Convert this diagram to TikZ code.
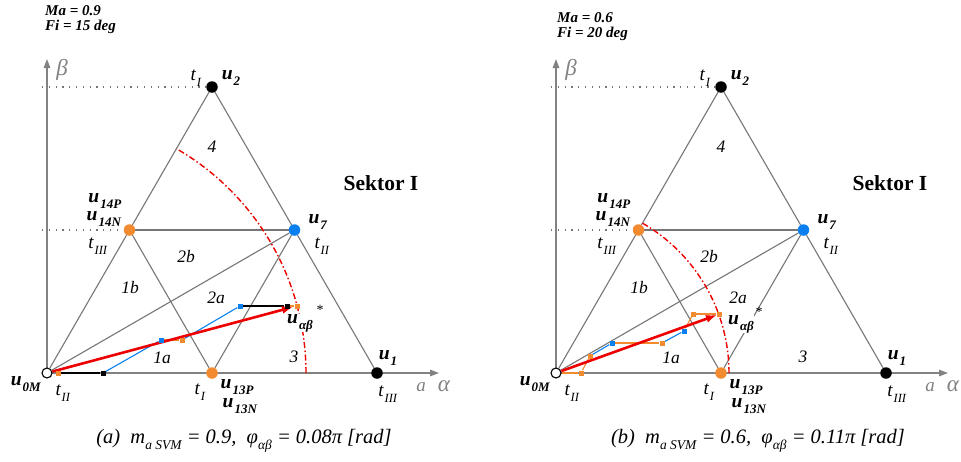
\documentclass[tikz,border=0pt]{standalone}
\usepackage{fontspec}
\setmainfont{Liberation Serif}
\usetikzlibrary{arrows.meta,backgrounds}
\definecolor{myorange}{RGB}{242,138,48}
\definecolor{myblue}{RGB}{10,128,240}
\definecolor{trigray}{RGB}{118,118,118}
\definecolor{axgray}{RGB}{130,130,130}
\definecolor{myred}{RGB}{236,0,0}

\newcommand{\myU}[1]{\textbf{\textit{u}}\kern1pt\raisebox{-0.30em}{\fontsize{13}{13}\selectfont\textbf{\textit{#1}}}}
\newcommand{\myT}[1]{\textit{t}\kern0.5pt\raisebox{-0.32em}{\fontsize{12.5}{12.5}\selectfont\textit{#1}}}
\newcommand{\mySub}[1]{\raisebox{-0.3em}{\fontsize{13.5}{13.5}\selectfont #1}}

\tikzset{
  tri/.style={draw=trigray, line width=1.1pt},
  axline/.style={draw=axgray, line width=1.4pt, -{Triangle[length=9pt,width=6.5pt]}},
  dotline/.style={draw=trigray, line width=1.2pt, dash pattern=on 1.2pt off 5.6pt},
  vdot/.style={circle, inner sep=0pt, minimum size=11.5pt},
  blk/.style={vdot, fill=black},
  org/.style={vdot, fill=myorange},
  blu/.style={vdot, fill=myblue},
  wht/.style={vdot, fill=white, draw=black, line width=1.1pt, minimum size=10pt},
  sqr/.style={rectangle, inner sep=0pt, minimum size=5pt},
  sqo/.style={sqr, fill=myorange},
  sqb/.style={sqr, fill=myblue},
  sqk/.style={sqr, fill=black},
  lko/.style={draw=myorange, line width=1.1pt},
  lkb/.style={draw=myblue, line width=1.1pt},
  lkk/.style={draw=black, line width=1.2pt},
  ulab/.style={font=\fontsize{19.5}{18.5}\selectfont, inner sep=0.5pt},
  tlab/.style={font=\fontsize{19}{19}\selectfont, inner sep=0.5pt},
  reg/.style={font=\fontsize{17.5}{17.5}\selectfont\itshape, inner sep=0.5pt},
  arcline/.style={draw=myred, line width=1.4pt, dash pattern=on 6pt off 2.5pt on 1.5pt off 2.5pt},
  vecline/.style={draw=myred, line width=2.6pt, -{Latex[length=11pt,width=8pt]}},
  info/.style={font=\fontsize{15}{15}\selectfont\bfseries\itshape, anchor=west, inner sep=0pt},
  capt/.style={font=\fontsize{20.5}{20.5}\selectfont\itshape, inner sep=0pt},
  axlab/.style={text=axgray, inner sep=0pt},
  sektor/.style={font=\fontsize{21.5}{21.5}\selectfont\bfseries, inner sep=0pt},
}

\newcommand{\panelbase}{%
  \node[blk] (u2) at (165,-286) {};
  \node[org] (u14) at (82.5,-143) {};
  \node[blu] (u7) at (247.5,-143) {};
  \node[org] (u13) at (165,0) {};
  \node[blk] (u1) at (330,0) {};
  \node[wht] (u0) at (0,0) {};
  \coordinate (xe) at (392,0);
  \coordinate (ye) at (0,-314);
  \coordinate (d2) at (-5,-286);
  \coordinate (d14) at (-5,-143);
  \begin{scope}[on background layer]
    \draw[axline] (u0.center) -- (xe);
    \draw[axline] (u0.center) -- (ye);
    \draw[dotline] (d2) -- (u2);
    \draw[dotline] (d14) -- (u14);
    \draw[tri] (u0) -- (u14) -- (u2) -- (u7) -- (u1);
    \draw[tri] (u14) -- (u7);
    \draw[tri] (u14) -- (u13) -- (u7);
    \draw[tri] (u0) -- (u7);
  \end{scope}
  \node[tlab] (l-t1a) at (149,-295) {\myT{I}};
  \node[ulab] (l-u2) at (184,-295) {\myU{2}};
  \node[reg] (l-r4) at (165,-226) {4};
  \node[ulab, align=right, anchor=east] (l-u14) at (75,-163) {\myU{14P}\\\myU{14N}};
  \node[ulab] (l-u7) at (271,-151) {\myU{7}};
  \node[tlab] (l-t3a) at (51,-127) {\myT{III}};
  \node[tlab] (l-t2a) at (275,-127) {\myT{II}};
  \node[reg] (l-r1b) at (83,-85) {1b};
  \node[reg] (l-r1a) at (115,-15) {1a};
  \node[reg] (l-r3) at (247,-16) {3};
  \node[ulab] (l-u1) at (341,-15) {\myU{1}};
  \node[ulab] (l-u0) at (-21,11) {\myU{0M}};
  \node[tlab] (l-t2b) at (16,20) {\myT{II}};
  \node[tlab] (l-t1b) at (153,19) {\myT{I}};
  \node[ulab, align=left, anchor=north west] (l-u13) at (173,6) {\myU{13P}\\\hspace{2pt}\myU{13N}};
  \node[tlab] (l-t3b) at (341,21) {\myT{III}};
  \node[axlab, font=\fontsize{19}{19}\selectfont\itshape] (l-a) at (374,14) {a};
  \node[axlab, font=\fontsize{23}{23}\selectfont\itshape] (l-alpha) at (397,13) {α};
  \node[axlab, font=\fontsize{23}{23}\selectfont\itshape] (l-beta) at (15,-303) {β};
  \node[sektor] (l-sek) at (334,-190) {Sektor I};
}

\begin{document}
\begin{tikzpicture}[x=1pt,y=-1pt]
\useasboundingbox (0,0) rectangle (961,461);

% ---------------- left panel ----------------
\begin{scope}[shift={(47,373)}, name prefix=L-]
  \panelbase
  \node[reg] (l-r2b) at (139,-116) {2b};
  \node[reg] (l-r2a) at (169,-75) {2a};
  \begin{scope}[on background layer]
    \draw[arcline] plot[domain=0:60, samples=60] ({259*cos(\x)},{-259*sin(\x)});
  \end{scope}
  \node[sqo] (s1) at (11,0) {};
  \node[sqk] (s2) at (56,0) {};
  \node[sqb] (s3) at (114,-33) {};
  \node[sqo] (s4) at (135,-33) {};
  \node[sqb] (s5) at (193,-67) {};
  \node[sqk] (s6) at (240,-67) {};
  \node[sqo] (s7) at (250,-67) {};
  \coordinate (vt) at (246,-66);
  \begin{scope}[on background layer]
    \draw[lkk] (s1) -- (s2);
    \draw[lkb] (s2) -- (s3);
    \draw[lko] (s3) -- (s4);
    \draw[lkb] (s4) -- (s5);
    \draw[lkk] (s5) -- (s6);
    \draw[lko] (s6) -- (s7);
    \draw[vecline] (u0) -- (vt);
  \end{scope}
  \node[ulab, fill=white] (l-uab) at (253,-50) {\myU{αβ}};
  \node[font=\fontsize{14}{14}\selectfont, inner sep=0pt] (l-star) at (273,-63) {*};
\end{scope}
\node[info] (ma1) at (45,11) {Ma = 0.9};
\node[info] (fi1) at (45,27) {Fi = 15 deg};
\node[capt] (cap1) at (244,441) {(a)\ \ m\mySub{a SVM} = 0.9,\ \ φ\mySub{αβ} = 0.08π [rad]};

% ---------------- right panel ----------------
\begin{scope}[shift={(556,373)}, name prefix=R-]
  \panelbase
  \node[reg] (l-r2b) at (153,-116) {2b};
  \node[reg] (l-r2a) at (182,-75) {2a};
  \begin{scope}[on background layer]
    \draw[arcline] plot[domain=0:60, samples=60] ({173*cos(\x)},{-173*sin(\x)});
  \end{scope}
  \node[sqo] (s1) at (25,0) {};
  \node[sqo] (s2) at (34,-17) {};
  \node[sqb] (s3) at (56,-30) {};
  \node[sqo] (s4) at (106,-30) {};
  \node[sqb] (s5) at (128,-42) {};
  \node[sqo] (s6) at (137,-59) {};
  \node[sqo] (s7) at (163,-59) {};
  \coordinate (vt) at (161,-58);
  \begin{scope}[on background layer]
    \draw[lko] (u0) -- (s1);
    \draw[lko] (s1) -- (s2);
    \draw[lkb] (s2) -- (s3);
    \draw[lko] (s3) -- (s4);
    \draw[lkb] (s4) -- (s5);
    \draw[lko] (s5) -- (s6);
    \draw[lko] (s6) -- (s7);
    \draw[vecline] (u0) -- (vt);
  \end{scope}
  \node[ulab, fill=white] (l-uab) at (185,-49) {\myU{αβ}};
  \node[font=\fontsize{14}{14}\selectfont, inner sep=0pt] (l-star) at (203,-61) {*};
\end{scope}
\node[info] (ma2) at (557,18) {Ma = 0.6};
\node[info] (fi2) at (557,34) {Fi = 20 deg};
\node[capt] (cap2) at (758,441) {(b)\ \ m\mySub{a SVM} = 0.6,\ \ φ\mySub{αβ} = 0.11π [rad]};
\end{tikzpicture}
\end{document}
